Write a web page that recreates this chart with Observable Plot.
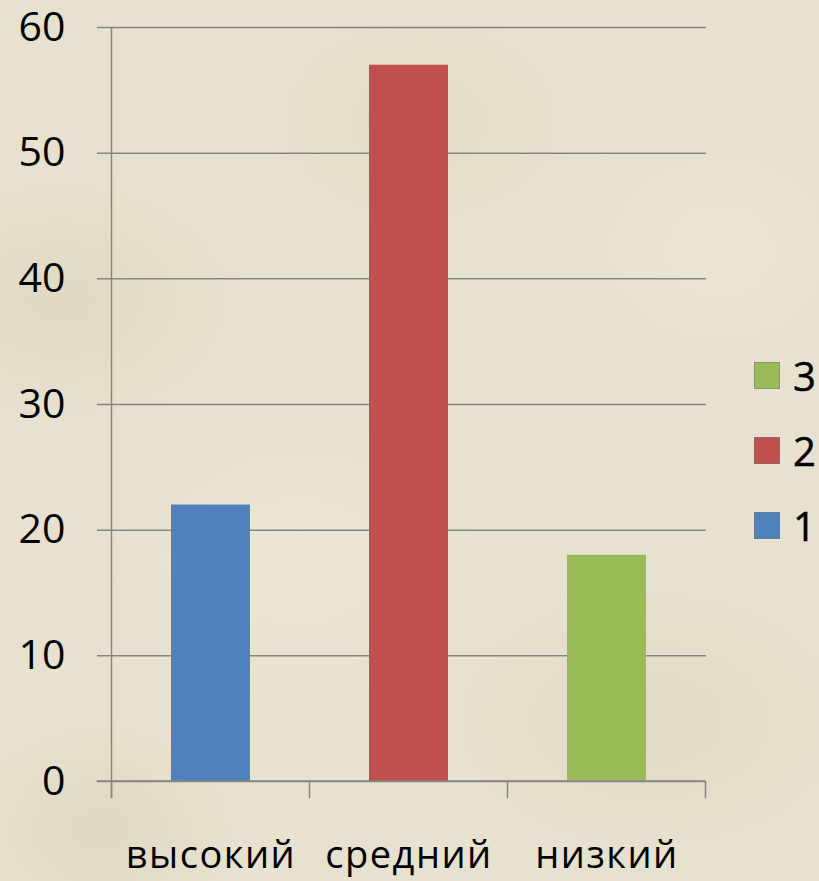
<!DOCTYPE html>
<html>
<head>
<meta charset="utf-8">
<script src="https://cdn.jsdelivr.net/npm/d3@7"></script>
<script src="https://cdn.jsdelivr.net/npm/@observablehq/plot@0.6"></script>
<style>
  html, body { margin: 0; padding: 0; }
  body {
    width: 819px; height: 881px; overflow: hidden; position: relative;
    font-family: "Open Sans", sans-serif;
    background-color: #e7e1cf;
    background-image:
      radial-gradient(ellipse 260px 180px at 60px 300px, rgba(210,198,165,0.30), transparent 70%),
      radial-gradient(ellipse 300px 200px at 650px 720px, rgba(210,198,165,0.25), transparent 70%),
      radial-gradient(ellipse 220px 160px at 420px 120px, rgba(214,204,172,0.25), transparent 70%),
      radial-gradient(ellipse 280px 220px at 300px 560px, rgba(242,238,228,0.40), transparent 70%),
      radial-gradient(ellipse 240px 200px at 720px 250px, rgba(242,238,228,0.35), transparent 70%),
      radial-gradient(ellipse 200px 160px at 100px 830px, rgba(205,192,155,0.25), transparent 70%);
  }
  #chart { position: absolute; left: 0; top: 0; }
  #chart svg { overflow: visible; }
  #legend { position: absolute; left: 754px; top: 362px; }
  .item { position: absolute; left: 0; height: 28px; white-space: nowrap; }
  .sw { position: absolute; left: 0; top: 0; width: 26px; height: 27px; border: 1px solid rgba(120,120,120,0.55); box-sizing: border-box; }
  .lb { position: absolute; left: 39px; top: -14px; font-size: 40px; line-height: 55px; color: #000; font-family: "Open Sans", sans-serif; -webkit-text-stroke: 0.5px #000; }
</style>
</head>
<body>
<div id="chart"></div>
<div id="legend"></div>
<script>
const categories = ["высокий", "средний", "низкий"];
const series = ["1", "2", "3"];
const values = [22, 57, 18];
const colors = ["#4f81bd", "#c0504d", "#9bbb59"];
const yTicks = [0, 10, 20, 30, 40, 50, 60];

const data = categories.map((c, i) => ({category: c, series: series[i], value: values[i]}));

const chart = Plot.plot({
  width: 819,
  height: 881,
  marginLeft: 112,
  marginRight: 113,
  marginTop: 27,
  marginBottom: 100,
  style: {background: "transparent", fontFamily: "'Open Sans', sans-serif", fontSize: "40px", color: "#000", overflow: "visible"},
  x: {domain: categories, paddingInner: 0.6, paddingOuter: 0.3, label: null},
  y: {domain: [0, 60], ticks: yTicks, label: null},
  color: {domain: series, range: colors},
  marks: [
    Plot.gridY(yTicks, {stroke: "#868686", strokeOpacity: 1, strokeWidth: 1.5, insetLeft: -15}),
    Plot.barY(data, {x: "category", y: "value", fill: "series"}),
    Plot.axisY(yTicks, {tickSize: 0, tickPadding: 47, fontSize: 41, fill: "#000", stroke: "#000", strokeWidth: 0.5}),
    Plot.axisX({tickSize: 0, tickPadding: 60, fontSize: 38, fill: "#000", stroke: "#000", strokeWidth: 0.4})
  ]
});
document.getElementById("chart").appendChild(chart);
d3.select(chart).selectAll("[aria-label='x-axis tick label'] text").style("letter-spacing", "1.5px");

// axis line and category boundary ticks from the library's scales
const xs = chart.scale("x"), ys = chart.scale("y");
const svg = d3.select(chart);
const y0 = ys.apply(0), yTop = ys.apply(60);
const left = xs.apply(categories[0]) - (xs.step - xs.bandwidth) / 2;
const g = svg.append("g").attr("stroke", "#868686").attr("stroke-width", 1.5);
g.append("line").attr("x1", left).attr("x2", left).attr("y1", yTop).attr("y2", y0 + 17);
for (let i = 0; i <= categories.length; i++) {
  const x = left + i * xs.step;
  g.append("line").attr("x1", x).attr("x2", x).attr("y1", y0).attr("y2", y0 + 17);
}
g.append("line").attr("x1", left - 15).attr("x2", left + categories.length * xs.step).attr("y1", y0).attr("y2", y0);

// legend (reverse order, as in the reference)
const legend = document.getElementById("legend");
series.slice().reverse().forEach((s, k) => {
  const i = series.indexOf(s);
  const it = document.createElement("div");
  it.className = "item";
  it.style.top = (k * 75) + "px";
  it.innerHTML = `<div class="sw" style="background:${colors[i]}"></div><div class="lb">${s}</div>`;
  legend.appendChild(it);
});
</script>
</body>
</html>
